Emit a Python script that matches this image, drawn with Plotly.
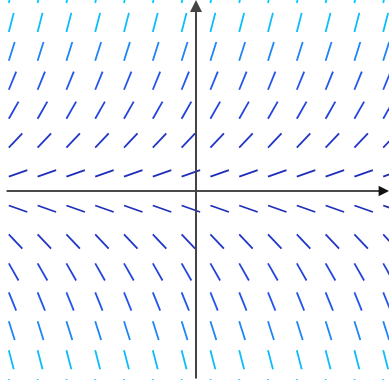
import numpy as np
import plotly.graph_objects as go

# Grid of sample points for the slope field dy/dx = f(y)
x_points = [-6.5, -5.5, -4.5, -3.5, -2.5, -1.5, -0.5, 0.5, 1.5, 2.5, 3.5, 4.5, 5.5, 6.5]
y_levels = [0.5, 1.5, 2.5, 3.5, 4.5, 5.5, 6.5]
# slope at each |y| level (sign follows y)
slopes = [0.35, 1.05, 1.75, 2.45, 3.15, 3.85, 4.55]
level_colors = ["#1f2fb8", "#2036c8", "#2244dc", "#2255ec", "#1e84f8", "#0cbcfc", "#00ccff"]

SEG_LEN = 0.68  # segment length in axis units

fig = go.Figure()

for lvl, s, col in zip(y_levels, slopes, level_colors):
    xs, ys = [], []
    for sign in (1, -1):
        y0 = sign * lvl
        m = sign * s
        dx = SEG_LEN / np.sqrt(1 + m * m)
        dy = m * dx
        for x0 in x_points:
            xs += [x0, x0 + dx, None]
            ys += [y0, y0 + dy, None]
    fig.add_trace(go.Scatter(x=xs, y=ys, mode="lines",
                             line=dict(color=col, width=1.8),
                             hoverinfo="skip", showlegend=False))

x_min, x_max = -6.806, 6.701
y_min, y_max = -6.53, 6.603

# coordinate axes with arrowheads
fig.add_annotation(x=x_max, y=0, ax=-6.63, ay=0, xref="x", yref="y",
                   axref="x", ayref="y", text="", showarrow=True,
                   arrowhead=2, arrowsize=1.3, arrowwidth=1.6, arrowcolor="#111111")
fig.add_annotation(x=0, y=y_max, ax=0, ay=y_min, xref="x", yref="y",
                   axref="x", ayref="y", text="", showarrow=True,
                   arrowhead=2, arrowsize=1.2, arrowwidth=2, arrowcolor="#444444")

fig.update_xaxes(range=[x_min, x_max], visible=False, fixedrange=True)
fig.update_yaxes(range=[y_min, y_max], visible=False, fixedrange=True)
fig.update_layout(width=389, height=380, margin=dict(l=0, r=0, t=0, b=0),
                  plot_bgcolor="white", paper_bgcolor="white")

fig.write_html("out.html", config={"displayModeBar": False})
